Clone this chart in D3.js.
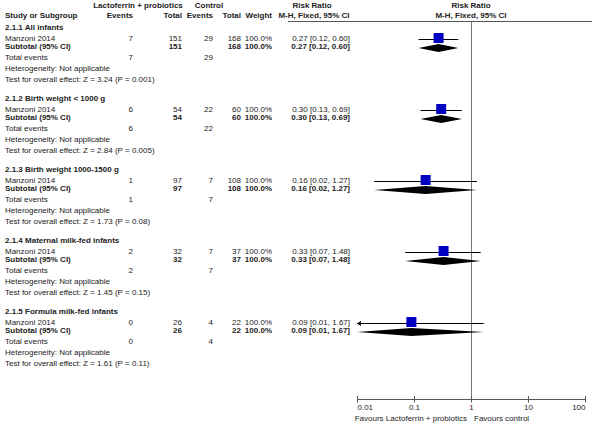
<!DOCTYPE html>
<html><head><meta charset="utf-8">
<script src="https://cdn.jsdelivr.net/npm/d3@7/dist/d3.min.js"></script>
<style>
html,body{margin:0;padding:0;background:#fff;}
svg{display:block;font-family:"Liberation Sans",Arial,sans-serif;}
</style></head>
<body>
<svg id="chart" width="592" height="426"></svg>
<script>
// ---- data ----
const subgroups = ["2.1.1 All infants", "2.1.2 Birth weight < 1000 g", "2.1.3 Birth weight 1000-1500 g", "2.1.4 Maternal milk-fed infants", "2.1.5 Formula milk-fed infants"];
const studies = ["Manzoni 2014", "Manzoni 2014", "Manzoni 2014", "Manzoni 2014", "Manzoni 2014"];
const expEvents = [7, 6, 1, 2, 0];
const expTotal = [151, 54, 97, 32, 26];
const ctrlEvents = [29, 22, 7, 7, 4];
const ctrlTotal = [168, 60, 108, 37, 22];
const weights = ["100.0%", "100.0%", "100.0%", "100.0%", "100.0%"];
const rr = [0.27, 0.30, 0.16, 0.33, 0.09];
const ciLow = [0.12, 0.13, 0.02, 0.07, 0.01];
const ciHigh = [0.60, 0.69, 1.27, 1.48, 1.67];
const zValues = ["3.24", "2.84", "1.73", "1.45", "1.61"];
const pValues = ["0.001", "0.005", "0.08", "0.15", "0.11"];
const tickValues = [0.01, 0.1, 1, 10, 100];
const tickLabels = ["0.01", "0.1", "1", "10", "100"];
const favoursLeft = "Favours Lactoferrin + probiotics";
const favoursRight = "Favours control";

// ---- layout ----
const svg = d3.select("#chart");
const FS = 8;
const x = d3.scaleLog().domain([0.01, 100]).range([357, 585]);
const yBand = d3.scaleLinear().domain([0, 1]).range([28, 99]); // section top
const rowOff = {head: 0, study: 11, sub: 19, tot: 30, het: 41, test: 51.5};
const col = {name: 5, eEv: 133, eTot: 182, cEv: 213, cTot: 241, wt: 272, rr: 350};
const axisY = 399;

function txt(xp, yp, s, opt = {}) {
  return svg.append("text").attr("x", xp).attr("y", yp).text(s)
    .attr("font-size", opt.size || FS)
    .attr("font-weight", opt.bold ? "bold" : "normal")
    .attr("text-anchor", opt.anchor || "start")
    .attr("dominant-baseline", "middle")
    .attr("fill", "#222");
}

// headers
txt(138, 6, "Lactoferrin + probiotics", {bold: true, anchor: "middle"});
txt(209, 6, "Control", {bold: true, anchor: "middle"});
txt(312, 6, "Risk Ratio", {bold: true, anchor: "middle"});
txt(471, 6, "Risk Ratio", {bold: true, anchor: "middle"});
txt(col.name, 16, "Study or Subgroup", {bold: true});
txt(col.eEv, 16, "Events", {bold: true, anchor: "end"});
txt(col.eTot, 16, "Total", {bold: true, anchor: "end"});
txt(col.cEv, 16, "Events", {bold: true, anchor: "end"});
txt(col.cTot, 16, "Total", {bold: true, anchor: "end"});
txt(col.wt, 16, "Weight", {bold: true, anchor: "end"});
txt(314, 16, "M-H, Fixed, 95% CI", {bold: true, anchor: "middle"});
txt(471, 16, "M-H, Fixed, 95% CI", {bold: true, anchor: "middle"});

// header rule
svg.append("line").attr("x1", 288).attr("x2", 592).attr("y1", 21.5).attr("y2", 21.5)
  .attr("stroke", "#555").attr("stroke-width", 1);

// line of no effect
svg.append("line").attr("x1", x(1) + 0.5).attr("x2", x(1) + 0.5).attr("y1", 22).attr("y2", axisY)
  .attr("stroke", "#777").attr("stroke-width", 1);

const fmt = d3.format(".2f");
subgroups.forEach((g, i) => {
  const t = yBand(i);
  txt(col.name, t + rowOff.head, g, {bold: true});
  // study row
  const ys = t + rowOff.study;
  txt(col.name, ys, studies[i]);
  txt(col.eEv, ys, expEvents[i], {anchor: "end"});
  txt(col.eTot, ys, expTotal[i], {anchor: "end"});
  txt(col.cEv, ys, ctrlEvents[i], {anchor: "end"});
  txt(col.cTot, ys, ctrlTotal[i], {anchor: "end"});
  txt(col.wt, ys, weights[i], {anchor: "end"});
  const ciTxt = `${fmt(rr[i])} [${fmt(ciLow[i])}, ${fmt(ciHigh[i])}]`;
  txt(col.rr, ys, ciTxt, {anchor: "end"});
  // subtotal row
  const yt = t + rowOff.sub;
  txt(col.name, yt, "Subtotal (95% CI)", {bold: true});
  txt(col.eTot, yt, expTotal[i], {bold: true, anchor: "end"});
  txt(col.cTot, yt, ctrlTotal[i], {bold: true, anchor: "end"});
  txt(col.wt, yt, weights[i], {bold: true, anchor: "end"});
  txt(col.rr, yt, ciTxt, {bold: true, anchor: "end"});
  // totals
  txt(col.name, t + rowOff.tot, "Total events");
  txt(col.eEv, t + rowOff.tot, expEvents[i], {anchor: "end"});
  txt(col.cEv, t + rowOff.tot, ctrlEvents[i], {anchor: "end"});
  txt(col.name, t + rowOff.het, "Heterogeneity: Not applicable");
  txt(col.name, t + rowOff.test, `Test for overall effect: Z = ${zValues[i]} (P = ${pValues[i]})`);

  // plot marks
  const [dmin, dmax] = x.domain();
  const clipLo = ciLow[i] <= dmin;
  const xl = x(Math.max(ciLow[i], dmin)), xh = x(Math.min(ciHigh[i], dmax));
  svg.append("line").attr("x1", xl).attr("x2", xh).attr("y1", ys + 0.5).attr("y2", ys + 0.5)
    .attr("stroke", "#000").attr("stroke-width", 1);
  if (clipLo) {
    svg.append("path").attr("d", `M${xl},${ys + 0.5} l4,-2.5 l0,5 z`).attr("fill", "#000");
  }
  const sq = 10;
  svg.append("rect").attr("x", x(rr[i]) - sq / 2).attr("y", ys - sq / 2 - 1).attr("width", sq).attr("height", sq)
    .attr("fill", "#0000C0");
  // diamond
  const xd = x(rr[i]);
  svg.append("path")
    .attr("d", `M${xl},${yt + 1} L${xd},${yt - 3} L${xh},${yt + 1} L${xd},${yt + 5} Z`)
    .attr("fill", "#000");
});

// axis
const axis = d3.axisBottom(x).tickValues(tickValues).tickFormat((d, i) => tickLabels[i]).tickSize(0);
const gA = svg.append("g").attr("transform", `translate(0,${axisY})`).call(axis);
gA.select(".domain").attr("stroke", "#555").attr("d", `M${x.range()[0]},0.5H${x.range()[1]}`);
gA.selectAll(".tick text").attr("font-size", FS).attr("font-family", "Liberation Sans, Arial, sans-serif")
  .attr("fill", "#222").attr("y", 5)
  .attr("text-anchor", (d, i) => i === 0 ? "start" : (i === tickValues.length - 1 ? "end" : "middle"));
gA.selectAll(".tick").append("line").attr("y1", -3).attr("y2", 3.5).attr("stroke", "#555");
txt(x(1) - 4, 419, favoursLeft, {anchor: "end"});
txt(x(1) + 3, 419, favoursRight, {anchor: "start"});
</script>
</body></html>
